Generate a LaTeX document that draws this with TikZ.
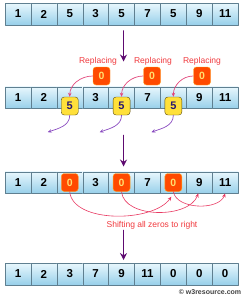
\documentclass[tikz,border=0pt]{standalone}
\usepackage{fontspec}
\setmainfont{Liberation Sans}
\usetikzlibrary{arrows.meta}

\definecolor{celltop}{HTML}{E8F7FD}
\definecolor{cellbottom}{HTML}{98D0EA}
\definecolor{cellborder}{HTML}{5F7F90}
\definecolor{zerofill}{HTML}{FF4A00}
\definecolor{zeroedge}{HTML}{FFA820}
\definecolor{zerotext}{HTML}{FFE070}
\definecolor{fivefill}{HTML}{FFE03A}
\definecolor{fiveedge}{HTML}{5A4A10}
\definecolor{fivetext}{HTML}{2A1870}
\definecolor{bigpurple}{HTML}{5E0A70}
\definecolor{smallpurple}{HTML}{8A4CC0}
\definecolor{pinkline}{HTML}{E2487C}
\definecolor{redtext}{HTML}{F0383C}

\begin{document}
\begin{tikzpicture}[x=1pt, y=1pt, line cap=round, line join=round, >=stealth,
	cell/.style={draw=cellborder, top color=celltop, bottom color=cellbottom,
		minimum width=25.9pt, minimum height=21.5pt, inner sep=0pt,
		font=\fontsize{11.5}{12}\selectfont\bfseries},
	zerobox/.style={draw=zeroedge, fill=zerofill, text=zerotext, rounded corners=3pt,
		minimum width=17pt, minimum height=18pt, inner sep=0pt,
		font=\fontsize{10.5}{11}\selectfont\bfseries},
	fivebox/.style={draw=fiveedge, fill=fivefill, text=fivetext, rounded corners=3pt,
		minimum width=17pt, minimum height=18pt, inner sep=0pt,
		font=\fontsize{11}{12}\selectfont\bfseries},
	bigarrow/.style={->, draw=bigpurple, line width=1.6pt, >={Stealth[length=7pt, width=7pt]}},
	pinkarrow/.style={->, draw=pinkline, line width=0.7pt, >={Stealth[length=4pt, width=3.5pt]}},
	bendarrow/.style={->, draw=smallpurple, line width=0.7pt, >={Stealth[length=4pt, width=3.5pt]}},
	shiftarrow/.style={->, draw=pinkline!80!red, line width=0.6pt, >={Stealth[length=4pt, width=3.5pt]}},
	note/.style={text=redtext, font=\fontsize{8.5}{9}\selectfont, inner sep=0pt}]
	
	% Picture window, same as the reference
	\useasboundingbox (0,0) rectangle (246,-300);
	
	% Row 1: input array
	\foreach \v [count=\i] in {1,2,5,3,5,7,5,9,11}
		\node[cell] (a\i) at ({5+25.9*(\i-0.5)},-14) {\v};
	
	% Row 2: fives pushed out, zeros coming in
	\foreach \v [count=\i] in {1,2,{},3,{},7,{},9,11}
		\node[cell] (b\i) at ({5+25.9*(\i-0.5)},-97.5) {\v};
	
	% Row 3: zeros in place
	\foreach \v [count=\i] in {1,2,{},3,{},7,{},9,11}
		\node[cell] (c\i) at ({5+25.9*(\i-0.5)},-182.5) {\v};
	
	% Row 4: result
	\foreach \v [count=\i] in {1,2,3,7,9,11,0,0,0}
		\node[cell] (d\i) at ({5+25.9*(\i-0.5)},-274) {\v};
	
	% Replacing: zero boxes, labels and fives
	\foreach \k/\c/\zx/\lx in {1/3/101.5/98, 2/5/152/153, 3/7/202/202} {
		\node[note] (r\k) at (\lx,-61) {Replacing};
		\node[zerobox] (z\k) at (\zx,-76) {0};
		\node[fivebox] (f\k) at ([yshift=-8.5pt]b\c.center) {5};
		\coordinate (p\k) at ([xshift=-22pt, yshift=-17pt]f\k.south);
		\draw[pinkarrow] (z\k.west) to[out=180, in=90] (f\k.north);
		\draw[bendarrow] (f\k.south) to[out=-90, in=20] (p\k);
	}
	
	% Zeros in row 3
	\node[zerobox] (q1) at (c3) {0};
	\node[zerobox] (q2) at (c5) {0};
	\node[zerobox] (q3) at (c7) {0};
	
	% Shifting arrows under row 3
	\draw[shiftarrow] (q1.south) to[out=-85, in=-125, looseness=0.8] ([xshift=-2pt, yshift=-5pt]q3.south);
	\draw[shiftarrow] (q2.south) to[out=-85, in=-110, looseness=0.9] ([xshift=-1pt]c8.south);
	\draw[shiftarrow] (q3.south) to[out=-80, in=-110, looseness=0.9] (c9.south);
	\node[note] (s) at (152,-225) {Shifting all zeros to right};
	
	% Big arrows between rows
	\coordinate (t1) at ([xshift=2pt, yshift=25pt]b5.north);
	\coordinate (t2) at ([xshift=2pt, yshift=-27pt]b5.south);
	\coordinate (t3) at ([xshift=2pt, yshift=-37pt]c5.south);
	\draw[bigarrow] ([xshift=2pt, yshift=-6pt]a5.south) -- (t1);
	\draw[bigarrow] (t2) -- ([xshift=2pt, yshift=5pt]c5.north);
	\draw[bigarrow] (t3) -- ([xshift=2pt, yshift=3pt]d5.north);
	
	% Watermark
	\node[text=black!75, font=\fontsize{7}{8}\selectfont\bfseries, inner sep=0pt] (w) at (210,-292.5) {© w3resource.com};
\end{tikzpicture}
\end{document}
